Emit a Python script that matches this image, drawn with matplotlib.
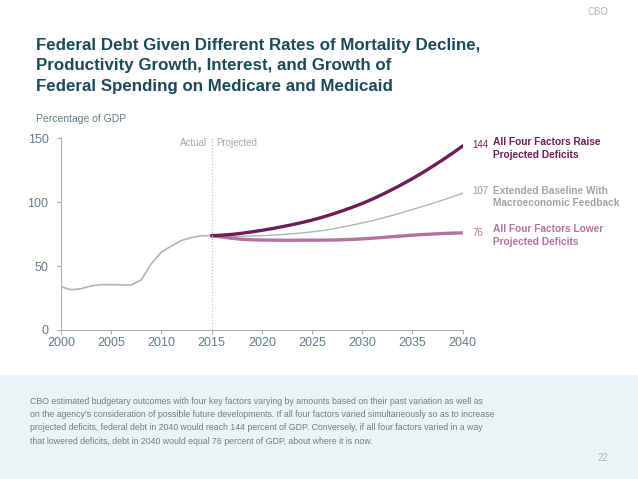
import matplotlib
matplotlib.use("Agg")
import matplotlib.pyplot as plt
from matplotlib.patches import Rectangle

hist_years = list(range(2000, 2016))
hist_debt = [33.8, 31.5, 32.3, 34.5, 35.5, 35.5, 35.3, 35.2, 39.3, 52.0, 61.0, 65.8, 70.1, 72.3, 73.8, 73.8]

proj_years = list(range(2015, 2041))
raise_debt = [73.8, 74.2, 74.8, 75.7, 76.8, 78.0, 79.3, 80.8, 82.4, 84.1, 86.0, 88.2, 90.6, 93.2, 96.0, 99.0,
              102.4, 106.1, 110.0, 114.1, 118.5, 123.1, 128.0, 133.1, 138.4, 144.0]
base_debt = [73.8, 73.5, 73.3, 73.3, 73.5, 73.8, 74.2, 74.7, 75.3, 76.0, 76.8, 77.8, 79.0, 80.5, 82.1, 83.8,
             85.6, 87.6, 89.7, 91.9, 94.3, 96.7, 99.1, 101.6, 104.3, 107.0]
lower_debt = [73.8, 72.8, 71.8, 71.0, 70.6, 70.4, 70.3, 70.2, 70.2, 70.3, 70.3, 70.3, 70.4, 70.6, 70.9, 71.3,
              71.8, 72.4, 73.0, 73.6, 74.2, 74.7, 75.1, 75.5, 75.8, 76.0]

x_ticks = [2000, 2005, 2010, 2015, 2020, 2025, 2030, 2035, 2040]
y_ticks = [0, 50, 100, 150]

title_lines = "Federal Debt Given Different Rates of Mortality Decline,\nProductivity Growth, Interest, and Growth of\nFederal Spending on Medicare and Medicaid"
body = ("CBO estimated budgetary outcomes with four key factors varying by amounts based on their past variation as well as\n"
        "on the agency\u2019s consideration of possible future developments. If all four factors varied simultaneously so as to increase\n"
        "projected deficits, federal debt in 2040 would reach 144 percent of GDP. Conversely, if all four factors varied in a way\n"
        "that lowered deficits, debt in 2040 would equal 76 percent of GDP, about where it is now.")

C_RAISE = "#6e1d58"
C_BASE = "#b4b4b4"
C_LOWER = "#b5729d"
C_TICK = "#5f7f8a"
C_TITLE = "#1b4a58"

plt.rcParams['font.family'] = ['Liberation Sans', 'DejaVu Sans']

fig = plt.figure(figsize=(6.38, 4.79), dpi=100)
fig.patch.set_facecolor("white")

# bottom panel
fig.patches.append(Rectangle((0, 0), 1, 1 - 375 / 479, transform=fig.transFigure,
                             facecolor="#e9f4f4", edgecolor="none", zorder=0))

ax = fig.add_axes([61 / 638, 1 - 330 / 479, (462.7 - 61) / 638, (330 - 138.3) / 479])
ax.set_facecolor("none")

ax.plot(hist_years, hist_debt, color=C_BASE, lw=1.2, solid_capstyle="round")
ax.plot(proj_years, base_debt, color=C_BASE, lw=1.0)
ax.plot(proj_years, lower_debt, color=C_LOWER, lw=2.4, solid_capstyle="round")
ax.plot(proj_years, raise_debt, color=C_RAISE, lw=2.4, solid_capstyle="round")

ax.set_xlim(2000, 2040)
ax.set_ylim(0, 150)
ax.set_xticks(x_ticks)
ax.set_yticks(y_ticks)
for s in ["top", "right"]:
    ax.spines[s].set_visible(False)
for s in ["left", "bottom"]:
    ax.spines[s].set_color("#b0b0b0")
    ax.spines[s].set_linewidth(0.8)
ax.tick_params(axis="both", colors="#b0b0b0", labelcolor=C_TICK, labelsize=9, length=3, width=0.8)
ax.tick_params(axis="y", pad=6)
ax.tick_params(axis="x", pad=2)

ax.axvline(2015, color="#c8c8c8", lw=0.9, ls=(0, (1, 1.5)))
ax.text(2014.5, 146, "Actual", ha="right", va="center", fontsize=7, color="#a8a8a8")
ax.text(2015.5, 146, "Projected", ha="left", va="center", fontsize=7, color="#a8a8a8")

ax.text(2041.0, raise_debt[-1] + 1, f"{raise_debt[-1]:.0f}", fontsize=7, color=C_RAISE, va="center", clip_on=False)
ax.text(2041.0, base_debt[-1] + 2, f"{base_debt[-1]:.0f}", fontsize=7, color="#999999", va="center", clip_on=False)
ax.text(2041.0, lower_debt[-1], f"{lower_debt[-1]:.0f}", fontsize=7, color=C_LOWER, va="center", clip_on=False)

lab_kw = dict(fontsize=7.3, fontweight="bold", va="center", linespacing=1.3, clip_on=False)
ax.text(2043.0, raise_debt[-1] - 2, "All Four Factors Raise\nProjected Deficits", color=C_RAISE, **lab_kw)
ax.text(2043.0, base_debt[-1] - 3, "Extended Baseline With\nMacroeconomic Feedback", color="#a3a3a3", **lab_kw)
ax.text(2043.0, lower_debt[-1] - 2, "All Four Factors Lower\nProjected Deficits", color=C_LOWER, **lab_kw)

fig.text(36 / 638, 1 - 119 / 479, "Percentage of GDP", fontsize=7.5, color=C_TICK, va="center", ha="left")

fig.text(36 / 638, 1 - 38 / 479, title_lines, fontsize=12.2, fontweight="bold", color=C_TITLE,
         va="top", ha="left", linespacing=1.45)

fig.text(608 / 638, 1 - 12 / 479, "CBO", fontsize=7, color="#b5b5b5", ha="right", va="center")
fig.text(30 / 638, 1 - 397 / 479, body, fontsize=6.3, color="#7a7a7a", ha="left", va="top", linespacing=1.6)
fig.text(608 / 638, 1 - 458 / 479, "22", fontsize=7, color="#b5b5b5", ha="right", va="center")

fig.savefig("out.png", dpi=100)
